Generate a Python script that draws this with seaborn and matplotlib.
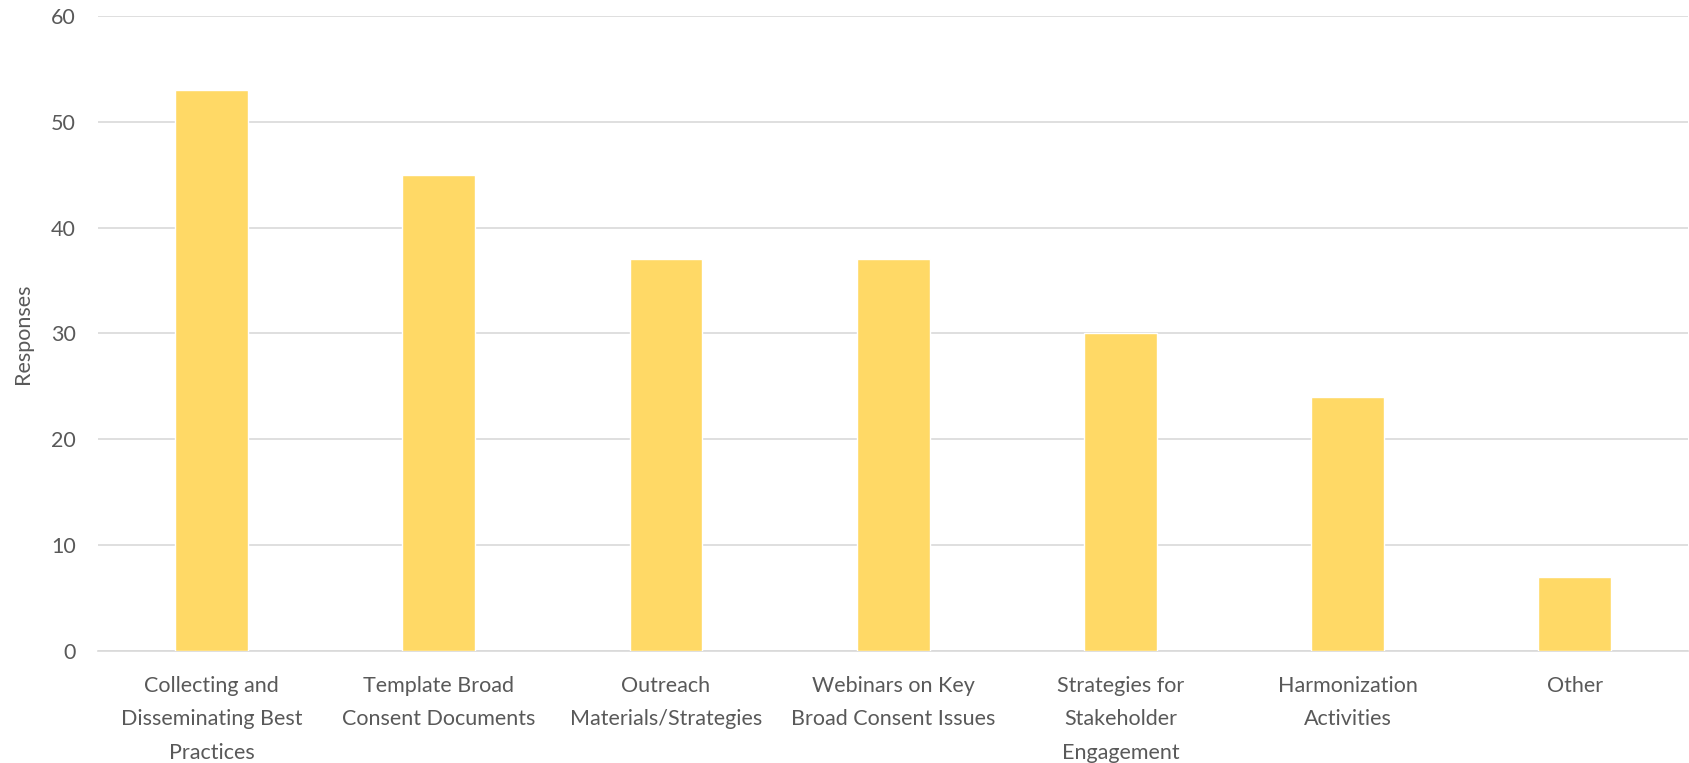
import matplotlib
matplotlib.use("Agg")
import matplotlib.pyplot as plt
import pandas as pd
import seaborn as sns

categories = [
    "Collecting and\nDisseminating Best\nPractices",
    "Template Broad\nConsent Documents",
    "Outreach\nMaterials/Strategies",
    "Webinars on Key\nBroad Consent Issues",
    "Strategies for\nStakeholder\nEngagement",
    "Harmonization\nActivities",
    "Other",
]
responses = [53, 45, 37, 37, 30, 24, 7]
y_ticks = [0, 10, 20, 30, 40, 50, 60]

data = pd.DataFrame({"category": categories, "responses": responses})

sns.set_theme(style="white")
plt.rcParams["font.family"] = ["Lato", "DejaVu Sans"]

text_color = "#595959"

fig = plt.figure(figsize=(16.9, 7.63), dpi=100)
ax = fig.add_axes([0.058, 0.147, 0.941, 0.832])

sns.barplot(data=data, x="category", y="responses", color="#FFD966",
            saturation=1, width=0.32, ax=ax, zorder=3)

ax.set_ylim(0, 60)
ax.set_yticks(y_ticks)
ax.set_xlim(-0.5, len(categories) - 0.5)
ax.yaxis.grid(True, color="#D9D9D9", linewidth=1.2, zorder=0)
ax.set_axisbelow(True)
for side in ["top", "right", "left"]:
    ax.spines[side].set_visible(False)
ax.spines["bottom"].set_color("#D9D9D9")
ax.spines["bottom"].set_linewidth(1.2)

ax.tick_params(axis="both", length=0, colors=text_color, labelsize=15.5)
ax.tick_params(axis="y", pad=16)
ax.tick_params(axis="x", pad=18)
for lbl in ax.get_xticklabels():
    lbl.set_linespacing(1.85)

ax.set_xlabel("")
ax.set_ylabel("Responses", color=text_color, fontsize=15.5, labelpad=13)

fig.savefig("out.png", dpi=100)
